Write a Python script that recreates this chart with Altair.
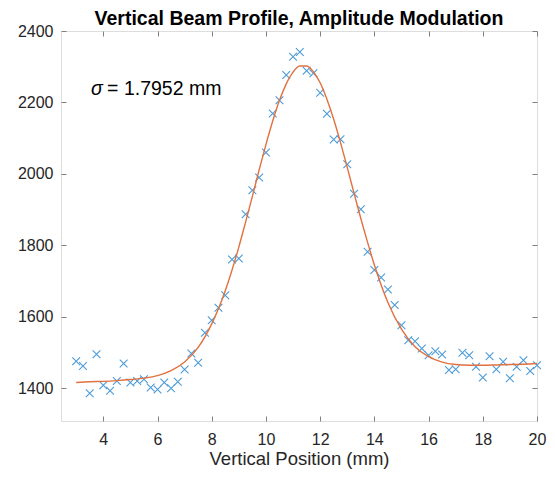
import altair as alt
import pandas as pd

# measured beam profile (vertical position in mm, signal)
pos_mm = [3.00, 3.25, 3.50, 3.75, 4.00, 4.25, 4.50, 4.75, 5.00, 5.25, 5.50, 5.75,
          6.00, 6.25, 6.50, 6.75, 7.00, 7.25, 7.50, 7.75, 8.00, 8.25, 8.50, 8.75,
          9.00, 9.25, 9.50, 9.75, 10.00, 10.25, 10.50, 10.75, 11.00, 11.25, 11.50, 11.75,
          12.00, 12.25, 12.50, 12.75, 13.00, 13.25, 13.50, 13.75, 14.00, 14.25, 14.50, 14.75,
          15.00, 15.25, 15.50, 15.75, 16.00, 16.25, 16.50, 16.75, 17.00, 17.25, 17.50, 17.75,
          18.00, 18.25, 18.50, 18.75, 19.00, 19.25, 19.50, 19.75, 20.00]
signal = [1475, 1462, 1386, 1495, 1408, 1393, 1420, 1469, 1416, 1420, 1425, 1402,
          1396, 1416, 1400, 1418, 1452, 1497, 1471, 1555, 1590, 1625, 1660, 1760,
          1763, 1887, 1954, 1990, 2060, 2169, 2206, 2277, 2328, 2341, 2289, 2282,
          2227, 2168, 2096, 2097, 2027, 1944, 1901, 1782, 1731, 1710, 1676, 1633,
          1576, 1534, 1531, 1511, 1492, 1503, 1494, 1451, 1453, 1499, 1492, 1460,
          1430, 1489, 1453, 1474, 1428, 1460, 1478, 1448, 1464]

# fitted Gaussian curve
fit_pos_mm = [3, 3.5, 4, 4.5, 5, 5.5, 6, 6.5, 7, 7.5, 8, 8.5,
              9, 9.25, 9.5, 9.75, 10, 10.25, 10.5, 10.75, 11, 11.25, 11.5, 11.75,
              12, 12.25, 12.5, 12.75, 13, 13.25, 13.5, 13.75, 14,
              14.5, 15, 15.5, 16, 16.5, 17, 17.5, 18, 18.5, 19, 19.5, 20]
fit_signal = [1416, 1418, 1419, 1421, 1424, 1428, 1435, 1449, 1473, 1514, 1580, 1673,
              1795, 1865, 1937, 2011, 2082, 2148, 2206, 2252, 2285, 2302, 2302, 2286,
              2255, 2209, 2153, 2088, 2018, 1946, 1875, 1808, 1745,
              1640, 1565, 1516, 1488, 1473, 1466, 1464, 1464, 1465, 1466, 1467, 1469]

x_ticks = [4, 6, 8, 10, 12, 14, 16, 18, 20]
y_ticks = [1400, 1600, 1800, 2000, 2200, 2400]
x_domain = [2.44, 20]
y_domain = [1308, 2400]

note_x = [3.55]
note_y = [2221]
note_symbol = ["σ"]
note_text = ["= 1.7952 mm"]

title_text = "Vertical Beam Profile, Amplitude Modulation"
x_title = "Vertical Position (mm)"

FONT = "Liberation Sans"
AX_GRAY = "#808080"
TXT = "#262626"

points_df = pd.DataFrame({"x": pos_mm, "y": signal})
fit_df = pd.DataFrame({"x": fit_pos_mm, "y": fit_signal})
note_df = pd.DataFrame({"x": note_x, "y": note_y, "sym": note_symbol, "rest": note_text})

xs = alt.Scale(domain=x_domain, nice=False, zero=False)
ys = alt.Scale(domain=y_domain, nice=False, zero=False)

x_label_axis = alt.Axis(values=x_ticks, title=x_title, domain=False, ticks=False, tickSize=0,
                        grid=False, labelFont=FONT, labelFontSize=16, labelColor=TXT,
                        labelPadding=10, labelFlush=False, titleFont=FONT, titleFontSize=18.5,
                        titleFontWeight="normal", titleColor=TXT, titlePadding=2)
y_label_axis = alt.Axis(values=y_ticks, title=None, domain=False, ticks=False, tickSize=0,
                        grid=False, labelFont=FONT, labelFontSize=16, labelColor=TXT,
                        labelPadding=8, labelFlush=False, format="d")


def tick_axis(values, orient):
    return alt.Axis(values=values, orient=orient, offset=-5, domain=False, ticks=True,
                    tickSize=5, tickColor=AX_GRAY, tickWidth=1, labels=False, grid=False,
                    title=None)


points = alt.Chart(points_df).mark_point(
    shape="M-1,-1L1,1M1,-1L-1,1", filled=False, size=60, strokeWidth=1.1,
    color="#4a9bd8", opacity=1
).encode(
    x=alt.X("x:Q", scale=xs, axis=x_label_axis),
    y=alt.Y("y:Q", scale=ys, axis=y_label_axis),
)

fit_line = alt.Chart(fit_df).mark_line(
    color="#e2703f", strokeWidth=1.4, interpolate="monotone"
).encode(
    x=alt.X("x:Q", scale=xs, axis=tick_axis(x_ticks, "bottom")),
    y=alt.Y("y:Q", scale=ys, axis=tick_axis(y_ticks, "left")),
)

frame_ticks = alt.Chart(fit_df).mark_line(opacity=0).encode(
    x=alt.X("x:Q", scale=xs, axis=tick_axis(x_ticks, "top")),
    y=alt.Y("y:Q", scale=ys, axis=tick_axis(y_ticks, "right")),
)

sym = alt.Chart(note_df).mark_text(
    align="left", baseline="alphabetic", font=FONT, fontSize=19.5,
    fontStyle="italic", color="#000000"
).encode(
    x=alt.X("x:Q", scale=xs, axis=None),
    y=alt.Y("y:Q", scale=ys, axis=None),
    text="sym:N",
)

rest = alt.Chart(note_df).mark_text(
    align="left", baseline="alphabetic", font=FONT, fontSize=19.5, dx=16,
    color="#000000"
).encode(
    x=alt.X("x:Q", scale=xs, axis=None),
    y=alt.Y("y:Q", scale=ys, axis=None),
    text="rest:N",
)

chart = alt.layer(points, fit_line, frame_ticks, sym, rest).resolve_axis(
    x="independent", y="independent"
).properties(
    width=476,
    height=390,
    title=alt.Title(title_text, font=FONT, fontSize=19.5, fontWeight="bold",
                    color="#000000", offset=-6, anchor="middle", frame="group"),
    autosize=alt.AutoSizeParams(type="none"),
    padding={"left": 53, "top": 23, "right": 10, "bottom": 48},
).configure_view(
    stroke=AX_GRAY, strokeWidth=1
).configure(background="white")

chart.save("out.html", embed_options={"renderer": "svg", "actions": False})
